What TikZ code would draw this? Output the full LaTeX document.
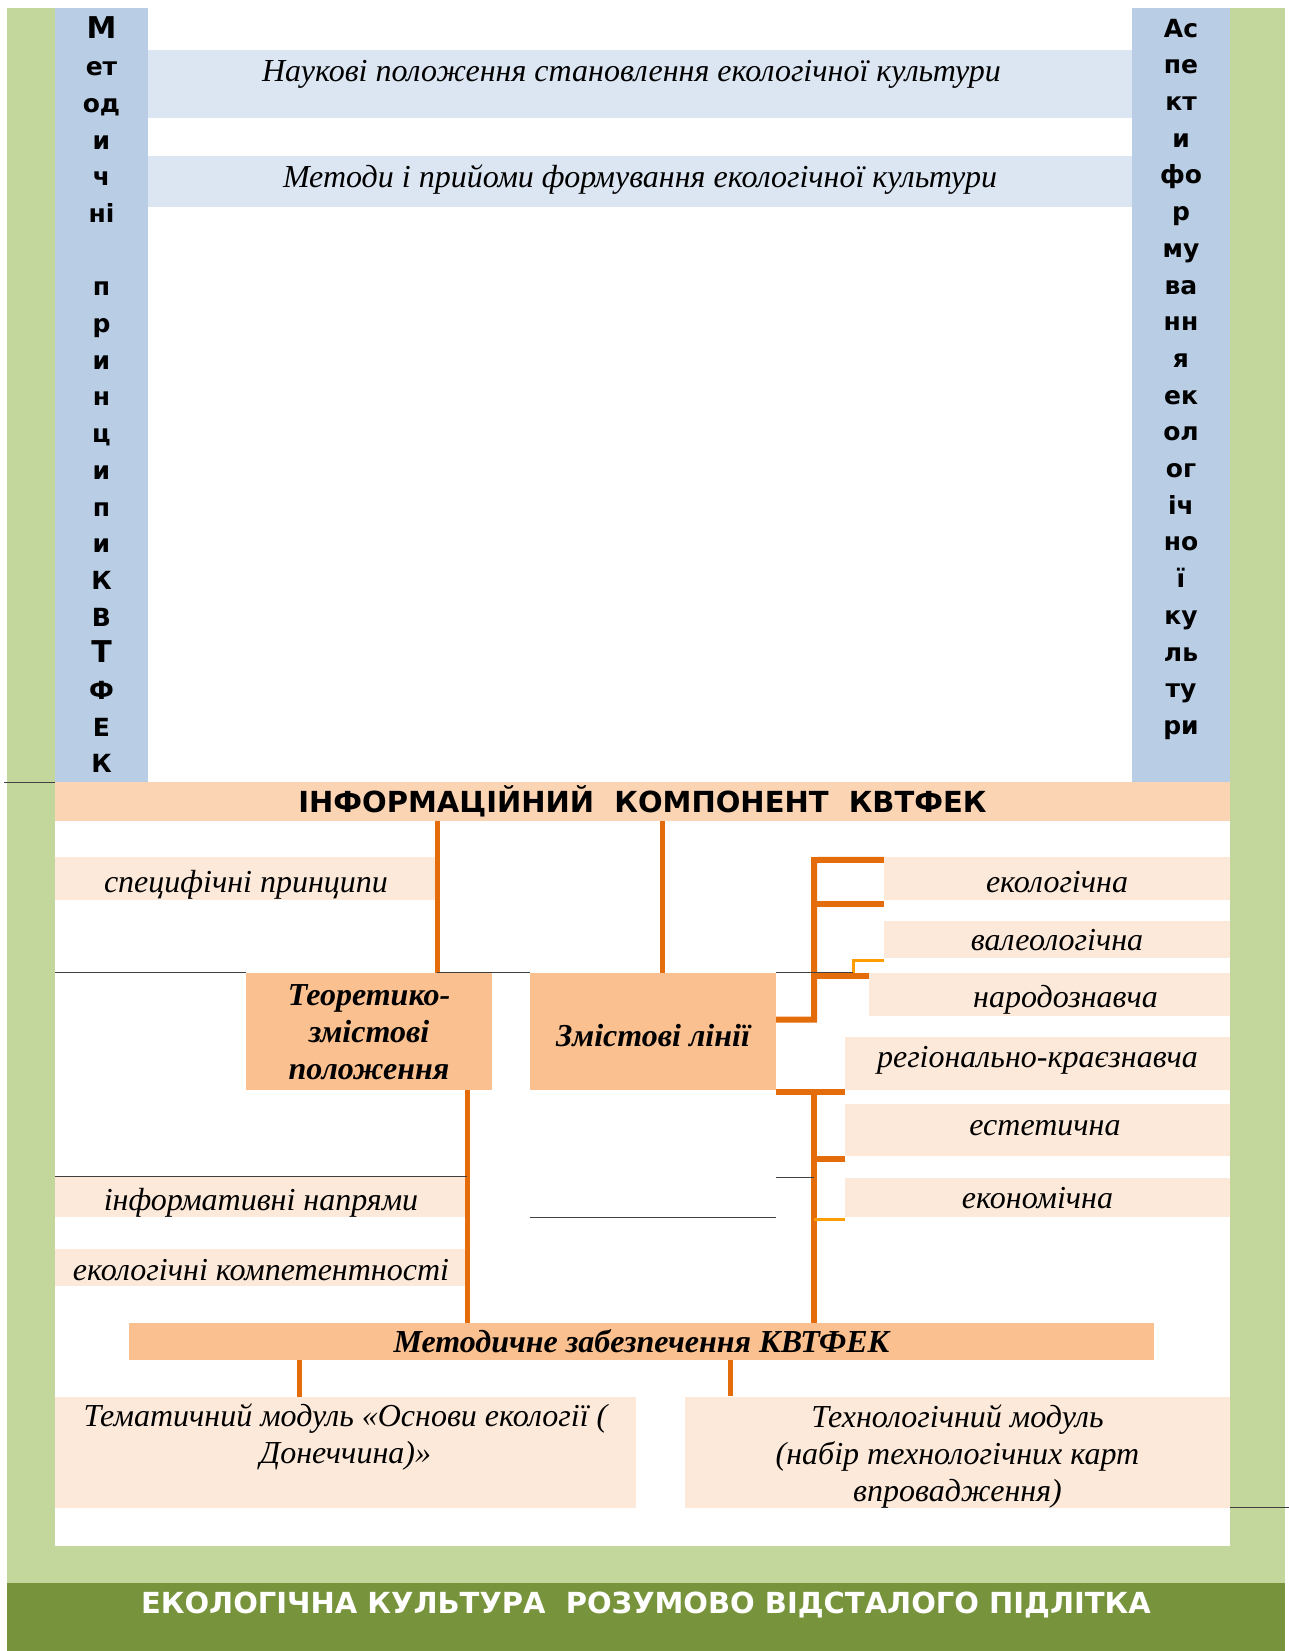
\documentclass[tikz,border=0pt]{standalone}
\usepackage{fontspec}
\setmainfont{Liberation Serif}
\setsansfont{DejaVu Sans}
\definecolor{lgreen}{HTML}{C3D69B}
\definecolor{dgreen}{HTML}{77933C}
\definecolor{colblue}{HTML}{B9CDE5}
\definecolor{barblue}{HTML}{DCE6F2}
\definecolor{hdrpeach}{HTML}{FBD4B4}
\definecolor{itempeach}{HTML}{FDE9D9}
\definecolor{mainor}{HTML}{FAC090}
\definecolor{linkor}{HTML}{E46C0A}
\definecolor{linkyel}{HTML}{FF9C00}
\newcommand{\lift}[2]{\raisebox{#1}[\height][\depth]{#2}}
\newcommand{\bigch}[1]{{\fontsize{30}{36.7}\selectfont #1}}

\begin{document}
\begin{tikzpicture}[x=1pt,y=-1pt,
  colbox/.style={fill=colblue,inner sep=0pt,align=center,font=\sffamily\bfseries\fontsize{25}{36.7}\selectfont},
  barbox/.style={fill=barblue,inner sep=0pt,font=\itshape\fontsize{32}{37}\selectfont},
  itembox/.style={fill=itempeach,inner sep=0pt,align=center,font=\itshape\fontsize{32}{37}\selectfont},
  one/.style={text height=26pt,text depth=0pt},
  mainbox/.style={fill=mainor,inner sep=0pt,align=center,font=\bfseries\itshape\fontsize{32}{37}\selectfont},
  link/.style={draw=linkor,line width=5pt},
  tree/.style={draw=linkor,line width=6pt},
  sublink/.style={draw=linkyel,line width=3pt},
  thinl/.style={draw=black!75,line width=1pt}]
\useasboundingbox (0,0) rectangle (1289,1651);
% background
\fill[lgreen] (7,8) rectangle (1285,1583);
\fill[white] (55,8) rectangle (1230,1546);

% columns and top bars
\node[colbox,minimum width=93pt,minimum height=774pt] (colL) at (101.5,395)
  {\bigch{М}\\ет\\од\\и\\ч\\ні\\ \mbox{}\\п\\р\\и\\н\\ц\\и\\п\\и\\К\\В\\\bigch{Т}\\Ф\\Е\\К};
\node[colbox,minimum width=98pt,minimum height=774pt] (colR) at (1181,395)
  {Ас\\пе\\кт\\и\\фо\\р\\му\\ва\\нн\\я\\ек\\ол\\ог\\іч\\но\\ї\\ку\\ль\\ту\\ри\\ \mbox{}};
\node[barbox,minimum width=984pt,minimum height=68pt] (nauk) at (640,84)
  {\lift{10pt}{\hspace*{-17pt}Наукові положення становлення екологічної культури}};
\node[barbox,minimum width=984pt,minimum height=51pt] (metod) at (640,181.5)
  {\lift{2pt}{Методи і прийоми формування екологічної культури}};

% information component
\node[fill=hdrpeach,inner sep=0pt,minimum width=1175pt,minimum height=39pt,
  font=\sffamily\bfseries\fontsize{29}{34}\selectfont] (info) at (642.5,801.5)
  {ІНФОРМАЦІЙНИЙ\ \ КОМПОНЕНТ\ \ КВТФЕК};
\node[itembox,one,minimum width=382pt,minimum height=43pt] (spec) at (246,878.5) {\lift{-1pt}{специфічні принципи}};
\node[mainbox,minimum width=246pt,minimum height=117pt] (teor) at (369,1031.5)
  {\lift{-4pt}{\begin{tabular}{@{}c@{}}Теоретико-\\змістові\\положення\end{tabular}}};
\node[mainbox,minimum width=246pt,minimum height=117pt] (zmist) at (653,1031.5) {\lift{-4pt}{Змістові лінії}};

% content lines
\node[itembox,one,minimum width=346pt,minimum height=43pt] (eko) at (1057,878.5) {\lift{-1pt}{екологічна}};
\node[itembox,one,minimum width=346pt,minimum height=37pt] (val) at (1057,939.5) {\lift{2pt}{валеологічна}};
\node[itembox,one,minimum width=361pt,minimum height=43pt] (nar) at (1049.5,994.5) {\hspace*{32pt}народознавча};
\node[itembox,one,minimum width=385pt,minimum height=53pt] (reg) at (1037.5,1063.5) {\lift{9pt}{регіонально-краєзнавча}};
\node[itembox,one,minimum width=385pt,minimum height=52pt] (est) at (1037.5,1130) {\lift{8pt}{\hspace*{15pt}естетична}};
\node[itembox,one,minimum width=385pt,minimum height=39pt] (ekon) at (1037.5,1197.5) {\lift{2pt}{економічна}};

\node[itembox,one,minimum width=412pt,minimum height=40pt] (inf) at (261,1197) {інформативні напрями};
\node[itembox,one,minimum width=412pt,minimum height=37pt] (komp) at (261,1267.5) {екологічні компетентності};

% methodical support
\node[mainbox,minimum width=1025pt,minimum height=37pt] (metz) at (641.5,1341.5) {Методичне забезпечення КВТФЕК};
\node[itembox,minimum width=581pt,minimum height=111pt] (tem) at (345.5,1452.5)
  {Тематичний модуль «Основи екології (\\Донеччина)»\\ \mbox{}};
\node[itembox,minimum width=545pt,minimum height=110pt] (teh) at (957.5,1452)
  {\lift{-5pt}{\begin{tabular}{@{}c@{}}Технологічний модуль\\(набір технологічних карт\\впровадження)\end{tabular}}};

\node[fill=dgreen,text=white,inner sep=0pt,minimum width=1278pt,minimum height=68pt,
  font=\sffamily\bfseries\fontsize{29}{32}\selectfont] (base) at (646,1617)
  {\lift{12pt}{ЕКОЛОГІЧНА КУЛЬТУРА\ \ РОЗУМОВО ВІДСТАЛОГО ПІДЛІТКА}};

% connectors
\coordinate (tk) at (814,860);
\coordinate (zj) at ([yshift=12pt]zmist.east);
\coordinate (elb) at ([xshift=77pt]zmist.north east);
\draw[link] (info.south -| spec.east) -- (teor.north -| spec.east);
\draw[link] ([xshift=9pt]info.south -| zmist.north) -- ([xshift=9pt]zmist.north);
\draw[link] (teor.south -| inf.east) -- (metz.north -| inf.east);
\draw[tree] ([yshift=-3pt]eko.north west) -- (tk) -- (tk |- zj) -- (zj);
\draw[tree] ([yshift=-4pt]eko.south west) -- ([yshift=-4pt]eko.south west -| tk);
\draw[tree] ([yshift=-3pt]nar.north west) -- ([yshift=-3pt]nar.north west -| tk);
\draw[tree] ([yshift=-2pt]zmist.south east) -- ([yshift=-2pt]reg.south west);
\draw[tree] ([yshift=-2pt]reg.south west -| tk) -- (metz.north -| tk);
\draw[tree] ([yshift=-3pt]est.south west) -- ([yshift=-3pt]est.south west -| tk);
\draw[sublink] ([yshift=-2pt]ekon.south west) -- ([yshift=-2pt]ekon.south west -| tk);
\draw[sublink] (elb) |- ([yshift=-2pt]val.south west);
\draw[link] ([xshift=-46pt]tem.north |- metz.south) -- ([xshift=-46pt]tem.north);
\draw[link] ([xshift=46pt]teh.north west |- metz.south) -- ([xshift=46pt]teh.north west);

% thin rules
\draw[thinl] (spec.west |- teor.north) -- (teor.north west);
\draw[thinl] (teor.north -| spec.east) -- (zmist.north west);
\draw[thinl] (zmist.north east) -- (elb);
\draw[thinl] (inf.north west) -- (inf.north east);
\draw[thinl] (ekon.north -| zmist.east) -- (ekon.north -| tk);
\draw[thinl] (ekon.south -| zmist.west) -- (ekon.south -| zmist.east);
\draw[thinl] (colL.south west) -- ++(-51,0);
\draw[thinl] (teh.south east) -- ++(59,0);
\end{tikzpicture}
\end{document}
